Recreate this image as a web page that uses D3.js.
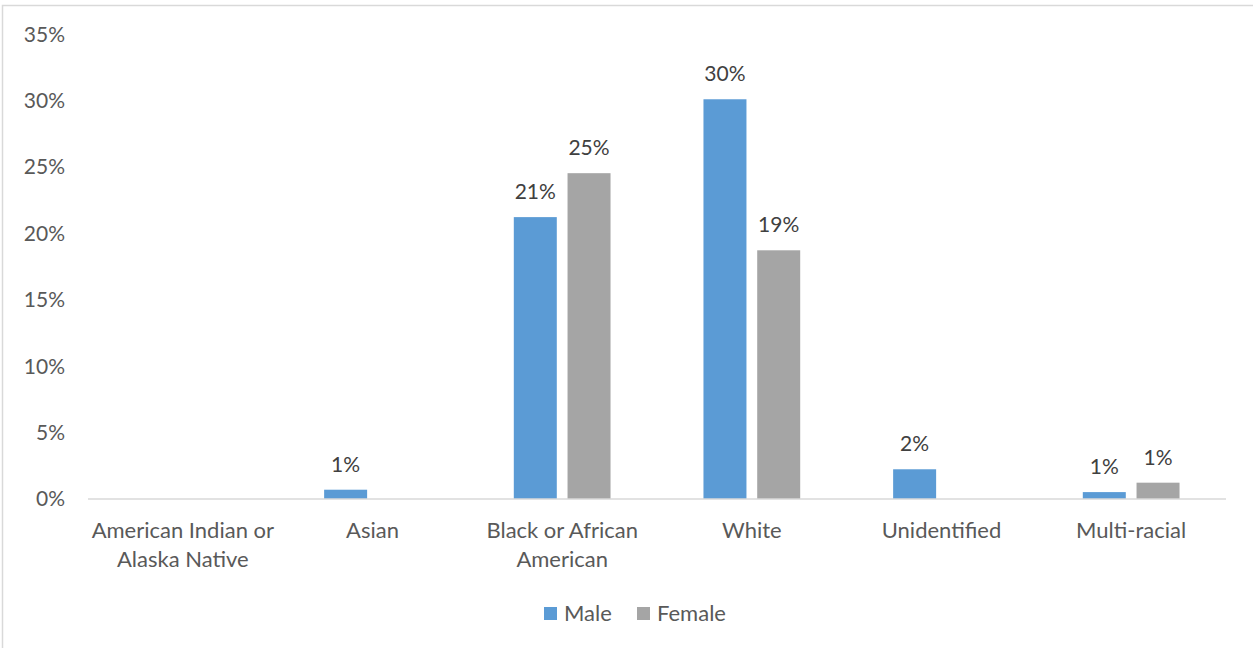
<!DOCTYPE html>
<html>
<head>
<meta charset="utf-8">
<script src="https://cdn.jsdelivr.net/npm/d3@7"></script>
<style>
  body { margin: 0; background: #fff; }
  text { font-family: Lato, "Open Sans", sans-serif; }
</style>
</head>
<body>
<div id="chart"></div>
<script>
// Data (fractions; null = no bar)
const categories = ["American Indian or Alaska Native", "Asian", "Black or African American",
                    "White", "Unidentified", "Multi-racial"];
const series = ["Male", "Female"];
const maleValues = [null, 0.0070, 0.2124, 0.3012, 0.0224, 0.0052];
const femaleValues = [null, null, 0.2455, 0.1874, null, 0.0123];
const yTicks = [0, 0.05, 0.10, 0.15, 0.20, 0.25, 0.30, 0.35];
const colors = ["#5B9BD5", "#A5A5A5"];

(function() {
    const width = 1253, height = 648;
    const plot = {left: 88, right: 1226, top: 34.5, bottom: 499};

    const svg = d3.select("#chart")
        .append("svg")
        .attr("width", width)
        .attr("height", height);

    // chart frame
    svg.append("rect")
        .attr("x", 2.5).attr("y", 5.5)
        .attr("width", 1300).attr("height", 700)
        .attr("fill", "none")
        .attr("stroke", "#d9d9d9")
        .attr("stroke-width", 1.5);

    const rows = categories.map((c, i) => ({
        category: c,
        values: [maleValues[i], femaleValues[i]]
    }));

    // X scales (groups and series within a group)
    const x0 = d3.scaleBand()
        .domain(categories)
        .range([plot.left, plot.right])
        .paddingInner(0.49)
        .paddingOuter(0.245);

    const x1 = d3.scaleBand()
        .domain(series)
        .range([0, x0.bandwidth()])
        .paddingInner(0.2);

    // Y scale
    const y = d3.scaleLinear()
        .domain([0, 0.35])
        .range([plot.bottom, plot.top]);

    const pct = d3.format(".0%");

    // Y axis (labels only)
    const yAxis = svg.append("g")
        .attr("transform", `translate(${plot.left},0)`)
        .call(d3.axisLeft(y).tickValues(yTicks).tickFormat(pct).tickSize(0).tickPadding(23));
    yAxis.select(".domain").remove();
    yAxis.selectAll("text")
        .attr("font-family", "Lato, sans-serif")
        .attr("font-size", 21)
        .attr("fill", "#595959");

    // Bars
    const groups = svg.selectAll(".group")
        .data(rows)
        .enter()
        .append("g")
        .attr("class", "group")
        .attr("transform", d => `translate(${x0(d.category)},0)`);

    const cells = groups.selectAll(".cell")
        .data(d => d.values.map((v, j) => ({series: series[j], value: v, j})).filter(e => e.value != null))
        .enter();

    cells.append("rect")
        .attr("x", d => x1(d.series))
        .attr("y", d => y(d.value))
        .attr("width", x1.bandwidth())
        .attr("height", d => y(0) - y(d.value))
        .attr("fill", d => colors[d.j]);

    // Data labels
    cells.append("text")
        .attr("x", d => x1(d.series) + x1.bandwidth() / 2)
        .attr("y", d => y(d.value) - 18)
        .attr("text-anchor", "middle")
        .attr("font-size", 21)
        .attr("fill", "#404040")
        .text(d => pct(d.value));

    // X axis
    const xAxis = svg.append("g")
        .attr("transform", `translate(0,${plot.bottom})`)
        .call(d3.axisBottom(x0).tickSize(0).tickPadding(0));
    xAxis.select(".domain").remove();
    svg.append("line")
        .attr("x1", plot.left).attr("x2", plot.right)
        .attr("y1", plot.bottom).attr("y2", plot.bottom)
        .attr("stroke", "#d9d9d9")
        .attr("stroke-width", 1.5);

    // wrap category labels into lines
    xAxis.selectAll("text")
        .attr("font-family", "Lato, sans-serif")
        .attr("font-size", 22)
        .attr("fill", "#595959")
        .attr("dy", null)
        .attr("y", 0)
        .each(function(d) {
            const t = d3.select(this);
            const words = d.split(" ");
            t.text(null);
            let line = [];
            let lineNo = 0;
            let tspan = t.append("tspan").attr("x", 0).attr("y", 39);
            words.forEach(w => {
                line.push(w);
                tspan.text(line.join(" "));
                if (tspan.node().getComputedTextLength() > 200 && line.length > 1) {
                    line.pop();
                    tspan.text(line.join(" "));
                    line = [w];
                    lineNo++;
                    tspan = t.append("tspan").attr("x", 0).attr("y", 39 + lineNo * 29).text(w);
                }
            });
        });

    // Legend
    const legendX = [544, 637];
    const legend = svg.selectAll(".legend")
        .data(series)
        .enter()
        .append("g")
        .attr("class", "legend")
        .attr("transform", (d, i) => `translate(${legendX[i]},607)`);

    legend.append("rect")
        .attr("width", 13)
        .attr("height", 13)
        .attr("fill", (d, i) => colors[i]);

    legend.append("text")
        .attr("x", 20)
        .attr("y", 14)
        .attr("font-size", 22)
        .attr("fill", "#595959")
        .text(d => d);
})();
</script>
</body>
</html>
